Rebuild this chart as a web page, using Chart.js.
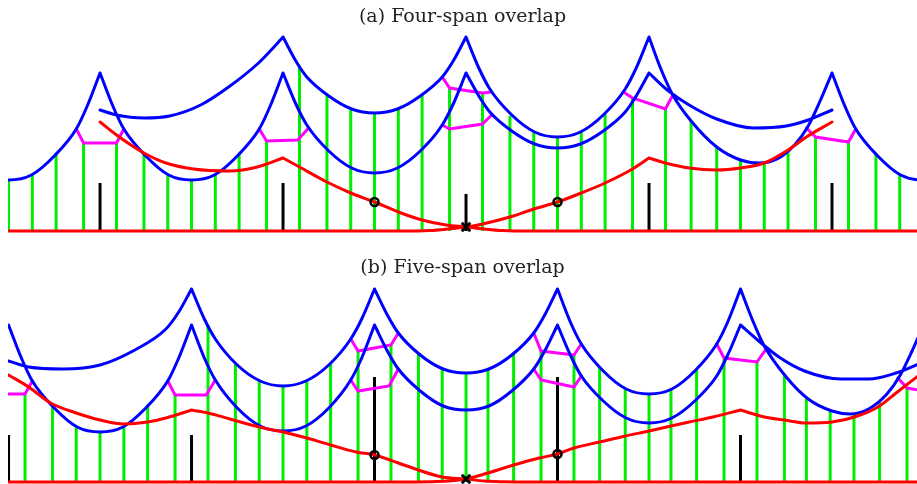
<!DOCTYPE html>
<html>
<head>
<meta charset="utf-8">
<title>Span overlap</title>
<script src="https://cdn.jsdelivr.net/npm/chart.js@4.4.0/dist/chart.umd.min.js"></script>
<style>
	body{margin:0;background:#fff;}
	#wrap{position:relative;width:917px;height:484px;overflow:hidden;}
	canvas{position:absolute;left:0;}
</style>
</head>
<body>
<div id="wrap">
	<canvas id="chartA" width="917" height="233" style="top:0px"></canvas>
	<canvas id="chartB" width="917" height="233" style="top:251px"></canvas>
</div>
<script>
// x in spans (0 = centre support), y = height above the base line

// (a) Four-span overlap
var blueArcsA = [
	[[-2.625,0.56],[-2.5,0.51],[-2.375,0.56],[-2.25,0.75],[-2.13,1.02],[-2.07,1.25],[-2,1.58]],
	[[-2,1.58],[-1.93,1.25],[-1.87,1.02],[-1.75,0.75],[-1.625,0.56],[-1.5,0.51],[-1.375,0.56],[-1.25,0.75],[-1.13,1.02],[-1.07,1.25],[-1,1.58]],
	[[-2,1.21],[-1.91,1.16],[-1.76,1.13],[-1.62,1.15],[-1.45,1.26],[-1.29,1.45],[-1.14,1.67],[-1.07,1.80],[-1,1.94]],
	[[-1,1.94],[-0.93,1.70],[-0.87,1.54],[-0.75,1.35],[-0.625,1.22],[-0.5,1.18],[-0.375,1.22],[-0.25,1.35],[-0.13,1.54],[-0.07,1.70],[0,1.94]],
	[[-1,1.58],[-0.93,1.27],[-0.87,1.06],[-0.75,0.80],[-0.625,0.63],[-0.5,0.58],[-0.375,0.63],[-0.25,0.80],[-0.13,1.06],[-0.07,1.27],[0,1.58]],
	[[0,1.94],[0.07,1.63],[0.13,1.42],[0.25,1.16],[0.375,0.99],[0.5,0.94],[0.625,0.99],[0.75,1.16],[0.87,1.42],[0.93,1.63],[1,1.94]],
	[[0,1.58],[0.07,1.35],[0.13,1.19],[0.25,1.0],[0.375,0.87],[0.5,0.83],[0.625,0.87],[0.75,1.0],[0.87,1.19],[0.93,1.35],[1,1.58]],
	[[1,1.94],[1.065,1.62],[1.13,1.36],[1.23,1.10],[1.37,0.84],[1.5,0.71],[1.6,0.68],[1.7,0.72],[1.8,0.87],[1.87,1.05],[1.935,1.30],[2,1.58]],
	[[1,1.58],[1.10,1.41],[1.21,1.27],[1.37,1.12],[1.57,1.03],[1.75,1.05],[1.87,1.11],[2,1.21]],
	[[2,1.58],[2.07,1.25],[2.13,1.02],[2.25,0.75],[2.375,0.56],[2.5,0.51],[2.625,0.56]]
];
var magentaA = [
	[[-2.13,1.02],[-2.09,0.88],[-1.91,0.88],[-1.87,1.02]],
	[[-1.13,1.02],[-1.09,0.90],[-0.92,0.91],[-0.86,1.03]],
	[[-0.13,1.54],[-0.09,1.43],[0.09,1.38],[0.14,1.39]],
	[[-0.13,1.06],[-0.09,1.02],[0.09,1.07],[0.14,1.16]],
	[[0.86,1.39],[0.91,1.33],[1.09,1.22],[1.13,1.36]],
	[[1.86,1.03],[1.91,0.94],[2.09,0.89],[2.13,1.02]]
];
var redA = [
	[[-2,1.09],[-1.91,0.96],[-1.76,0.78],[-1.64,0.68],[-1.49,0.62],[-1.29,0.60],[-1.14,0.64],[-1,0.73]],
	[[-1,0.73],[-0.91,0.64],[-0.76,0.49],[-0.63,0.38],[-0.50,0.29],[-0.37,0.19],[-0.24,0.11],[-0.11,0.06],[0,0.04],[0.10,0.02],[0.20,0.005],[0.35,0],[2.47,0]],
	[[-2.51,0],[-0.35,0],[-0.20,0.005],[-0.10,0.02],[0,0.04],[0.09,0.07],[0.24,0.14],[0.37,0.22],[0.50,0.29],[0.63,0.38],[0.76,0.48],[0.91,0.62],[1,0.73]],
	[[1,0.73],[1.09,0.68],[1.22,0.63],[1.37,0.61],[1.50,0.63],[1.63,0.68],[1.76,0.81],[1.86,0.94],[2,1.09]]
];
var greenA = [[-2.50,0.51],[-2.37,0.57],[-2.24,0.77],[-2.09,0.88],[-1.91,0.88],[-1.76,0.77],[-1.63,0.57],[-1.50,0.51],[-1.37,0.57],[-1.24,0.77],[-1.09,0.89],[-0.91,1.65],[-0.76,1.36],[-0.63,1.22],[-0.50,1.18],[-0.37,1.22],[-0.24,1.36],[-0.09,1.43],[0.09,1.38],[0.24,1.15],[0.37,0.99],[0.50,0.94],[0.63,0.99],[0.76,1.17],[0.91,1.33],[1.09,1.22],[1.23,1.10],[1.37,0.84],[1.50,0.71],[1.63,0.69],[1.76,0.81],[1.91,0.94],[2.09,0.89],[2.24,0.77],[2.37,0.57]];
var blackA = [[-2,0.48],[-1,0.48],[0,0.37],[1,0.48],[2,0.48]];
var circlesA = [[-0.5,0.29],[0.5,0.29]];
var crossA = [[0,0.04]];

// (b) Five-span overlap
var blueArcsB = [
	[[-2.5,1.57],[-2.43,1.24],[-2.37,1.01],[-2.25,0.74],[-2.125,0.55],[-2,0.50],[-1.875,0.55],[-1.75,0.74],[-1.63,1.01],[-1.57,1.24],[-1.5,1.57]],
	[[-2.5,1.21],[-2.39,1.15],[-2.2,1.13],[-2.0,1.17],[-1.82,1.31],[-1.64,1.53],[-1.57,1.70],[-1.5,1.93]],
	[[-1.5,1.93],[-1.43,1.63],[-1.37,1.43],[-1.25,1.17],[-1.125,1.01],[-1,0.96],[-0.875,1.01],[-0.75,1.17],[-0.63,1.43],[-0.57,1.63],[-0.5,1.93]],
	[[-1.5,1.57],[-1.43,1.24],[-1.37,1.02],[-1.25,0.74],[-1.125,0.56],[-1,0.51],[-0.875,0.56],[-0.75,0.74],[-0.63,1.02],[-0.57,1.24],[-0.5,1.57]],
	[[-0.5,1.93],[-0.43,1.67],[-0.37,1.49],[-0.25,1.27],[-0.125,1.13],[0,1.09],[0.125,1.13],[0.25,1.27],[0.37,1.49],[0.43,1.67],[0.5,1.93]],
	[[-0.5,1.57],[-0.43,1.31],[-0.37,1.13],[-0.25,0.91],[-0.125,0.76],[0,0.72],[0.125,0.76],[0.25,0.91],[0.37,1.13],[0.43,1.31],[0.5,1.57]],
	[[0.5,1.93],[0.57,1.60],[0.63,1.38],[0.75,1.11],[0.875,0.93],[1,0.88],[1.125,0.93],[1.25,1.11],[1.37,1.38],[1.43,1.60],[1.5,1.93]],
	[[0.5,1.57],[0.57,1.27],[0.63,1.06],[0.75,0.81],[0.875,0.64],[1,0.59],[1.125,0.64],[1.25,0.81],[1.37,1.06],[1.43,1.27],[1.5,1.57]],
	[[1.5,1.93],[1.57,1.60],[1.63,1.36],[1.75,1.05],[1.87,0.83],[2.0,0.71],[2.1,0.68],[2.2,0.73],[2.3,0.88],[2.37,1.06],[2.435,1.30],[2.5,1.57]],
	[[1.5,1.57],[1.60,1.41],[1.71,1.25],[1.85,1.11],[2.05,1.03],[2.2,1.03],[2.35,1.09],[2.5,1.20]]
];
var magentaB = [
	[[-2.52,0.88],[-2.41,0.88],[-2.37,1.01]],
	[[-1.63,1.01],[-1.59,0.87],[-1.42,0.87],[-1.37,1.02]],
	[[-0.63,1.43],[-0.59,1.31],[-0.41,1.37],[-0.37,1.49]],
	[[-0.63,1.02],[-0.59,0.91],[-0.42,0.96],[-0.37,1.13]],
	[[0.37,1.49],[0.41,1.31],[0.59,1.27],[0.63,1.38]],
	[[0.37,1.13],[0.41,1.02],[0.59,0.95],[0.63,1.06]],
	[[1.37,1.38],[1.41,1.24],[1.59,1.20],[1.64,1.33]],
	[[2.36,1.04],[2.41,0.94],[2.47,0.92]]
];
var redB = [
	[[-2.5,1.07],[-2.39,0.95],[-2.27,0.79],[-2.13,0.69],[-2.0,0.62],[-1.87,0.58],[-1.74,0.60],[-1.64,0.64],[-1.5,0.72]],
	[[-1.5,0.72],[-1.41,0.69],[-1.29,0.63],[-1.13,0.55],[-1.0,0.50],[-0.87,0.44],[-0.74,0.37],[-0.60,0.30],[-0.5,0.27],[-0.37,0.19],[-0.26,0.12],[-0.13,0.05],[0,0.03],[0.10,0.01],[0.20,0.003],[0.35,0],[2.47,0]],
	[[-2.51,0],[-0.35,0],[-0.20,0.003],[-0.10,0.01],[0,0.03],[0.12,0.09],[0.26,0.17],[0.40,0.24],[0.5,0.28],[0.59,0.34],[0.73,0.40],[0.87,0.46],[1.0,0.51],[1.12,0.56],[1.22,0.60],[1.35,0.65],[1.5,0.72]],
	[[1.5,0.72],[1.63,0.65],[1.74,0.62],[1.86,0.59],[2.0,0.60],[2.14,0.66],[2.26,0.76],[2.35,0.89],[2.47,1.06]]
];
var greenB = [[-2.41,0.88],[-2.26,0.75],[-2.13,0.56],[-2.0,0.50],[-1.87,0.56],[-1.74,0.75],[-1.59,0.87],[-1.41,1.57],[-1.26,1.19],[-1.13,1.02],[-1.0,0.96],[-0.87,1.02],[-0.74,1.19],[-0.59,1.31],[-0.41,1.37],[-0.26,1.28],[-0.13,1.13],[0,1.09],[0.12,1.13],[0.26,1.28],[0.41,1.31],[0.59,1.27],[0.73,1.15],[0.87,0.94],[1.0,0.88],[1.12,0.93],[1.26,1.13],[1.41,1.24],[1.59,1.20],[1.74,1.08],[1.86,0.84],[1.99,0.71],[2.12,0.68],[2.26,0.81],[2.41,0.94]];
var blackB = [[-2.5,0.47],[-1.5,0.47],[-0.5,1.05],[0.5,1.05],[1.5,0.47]];
var circlesB = [[-0.5,0.27],[0.5,0.28]];
var crossB = [[0,0.03]];

var titleA = "(a) Four-span overlap";
var titleB = "(b) Five-span overlap";

// arcs -> one point list, broken by null points
function joinArcs(arcs){
	var pts=[];
	for(var k=0;k<arcs.length;k++){
		if(k>0) pts.push({x:arcs[k][0][0],y:null});
		for(var j=0;j<arcs[k].length;j++){
			pts.push({x:arcs[k][j][0],y:arcs[k][j][1]});
		}
	}
	return pts;
}

// vertical sticks from the base line up to the given height
function sticks(list){
	var pts=[];
	for(var k=0;k<list.length;k++){
		pts.push({x:list[k][0],y:0});
		pts.push({x:list[k][0],y:list[k][1]});
		pts.push({x:list[k][0],y:null});
	}
	return pts;
}

function points(list){
	var pts=[];
	for(var k=0;k<list.length;k++) pts.push({x:list[k][0],y:list[k][1]});
	return pts;
}

function initialChart(id,title,blue,magenta,red,green,black,circles,cross){
	var ctx=document.getElementById(id).getContext("2d");
	var datasets=[
		{
			label:"cross",
			data:points(cross),
			showLine:false,
			pointStyle:"crossRot",
			pointRadius:6,
			pointBorderWidth:3,
			pointBorderColor:"#000000",
			order:0
		},
		{
			label:"circles",
			data:points(circles),
			showLine:false,
			pointStyle:"circle",
			pointRadius:4,
			pointBorderWidth:2.5,
			pointBorderColor:"#000000",
			pointBackgroundColor:"rgba(0,0,0,0)",
			order:1
		},
		{
			label:"red",
			data:joinArcs(red),
			borderColor:"#ff0000",
			borderWidth:3,
			borderCapStyle:"round",
			cubicInterpolationMode:"monotone",
			pointRadius:0,
			order:2
		},
		{
			label:"blue",
			data:joinArcs(blue),
			borderColor:"#0000ff",
			borderWidth:3,
			borderCapStyle:"round",
			cubicInterpolationMode:"monotone",
			pointRadius:0,
			order:3
		},
		{
			label:"magenta",
			data:joinArcs(magenta),
			borderColor:"#ff00ff",
			borderWidth:3,
			borderCapStyle:"round",
			tension:0,
			pointRadius:0,
			order:4
		},
		{
			label:"black",
			data:sticks(black),
			borderColor:"#000000",
			borderWidth:3,
			tension:0,
			pointRadius:0,
			order:5
		},
		{
			label:"green",
			data:sticks(green),
			borderColor:"#00ee00",
			borderWidth:3,
			tension:0,
			pointRadius:0,
			order:6
		}
	];

	return new Chart(ctx,{
		type:"line",
		data:{datasets:datasets},
		options:{
			responsive:false,
			animation:false,
			events:[],
			layout:{autoPadding:false,padding:{left:8,right:0,top:0,bottom:0}},
			plugins:{
				legend:{display:false},
				tooltip:{enabled:false},
				title:{
					display:true,
					text:title,
					color:"#222222",
					font:{family:"'DejaVu Serif', serif",size:19,weight:"normal"},
					padding:{top:6,bottom:4}
				}
			},
			scales:{
				x:{type:"linear",display:false,bounds:"data",min:-2.503,max:2.4645},
				y:{type:"linear",display:false,bounds:"data",min:-0.02,max:1.982}
			}
		}
	});
}

initialChart("chartA",titleA,blueArcsA,magentaA,redA,greenA,blackA,circlesA,crossA);
initialChart("chartB",titleB,blueArcsB,magentaB,redB,greenB,blackB,circlesB,crossB);
</script>
</body>
</html>
